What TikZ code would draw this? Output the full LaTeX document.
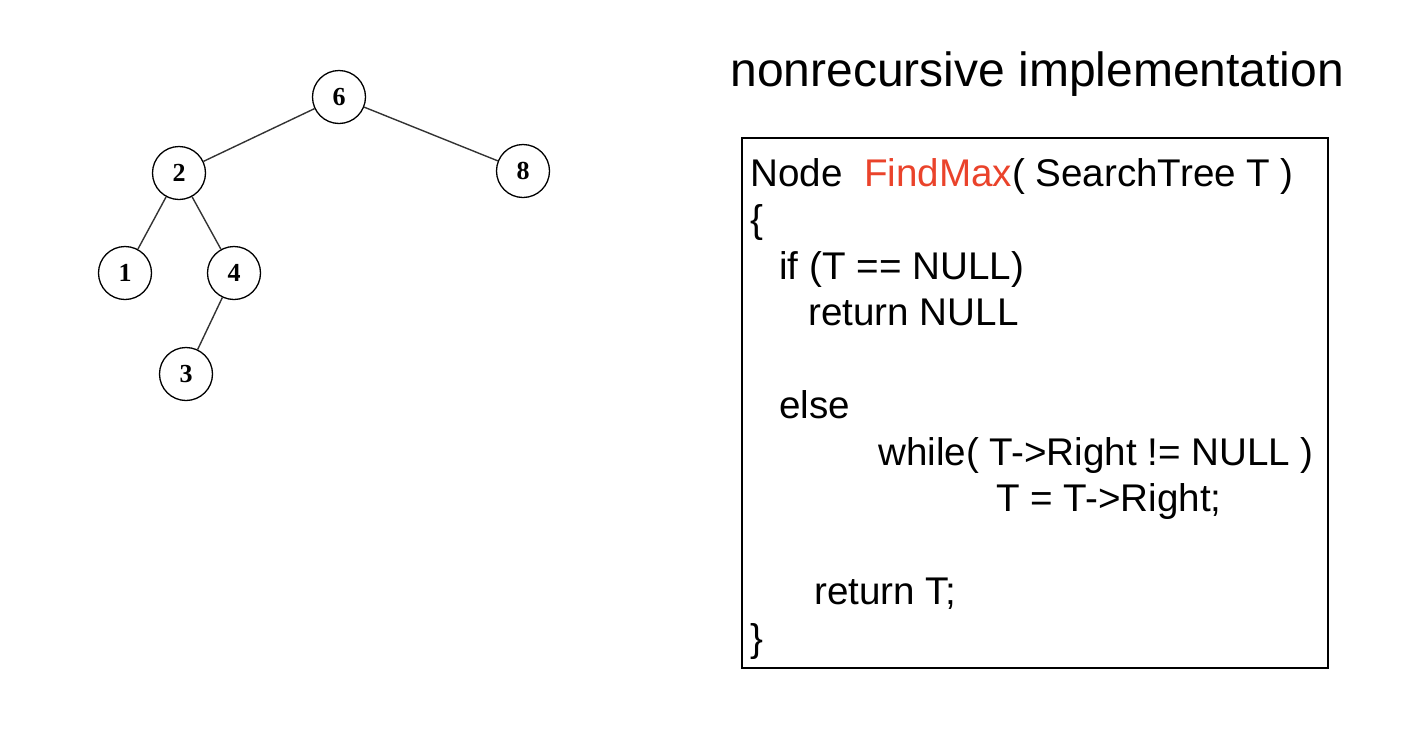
\documentclass[tikz,border=0pt]{standalone}
\usepackage{fontspec}
\setmainfont{Liberation Sans}
\newfontfamily\treefont{Liberation Serif}
\definecolor{fnred}{RGB}{234,67,43}
\begin{document}
\begin{tikzpicture}[x=0.5pt, y=-0.5pt]
		\tikzset{leaf/.style={draw, circle, minimum size=26.5pt, inner sep=0, line width=0.65pt, font=\treefont\bfseries\fontsize{13}{13}\selectfont},
			edge/.style={black!80, line width=0.7pt},
			code/.style={anchor=base west, inner sep=0, font=\fontsize{19.3}{23}\selectfont}}
		\useasboundingbox (0,0) rectangle (1418,750);
		% search tree
		\node [leaf] (n6) at (339,97) {6};
		\node [leaf] (n2) at (179,173) {2};
		\node [leaf] (n8) at (523,171) {8};
		\node [leaf] (n1) at (125,273) {1};
		\node [leaf] (n4) at (234,273) {4};
		\node [leaf] (n3) at (186,374) {3};
		\draw [edge] (n6) -- (n2);
		\draw [edge] (n6) -- (n8);
		\draw [edge] (n2) -- (n1);
		\draw [edge] (n2) -- (n4);
		\draw [edge] (n4) -- (n3);
		% code
		\node [font=\fontsize{24}{28}\selectfont, anchor=base west, inner sep=0] (title) at (730,86) {nonrecursive implementation};
		\node [draw, line width=0.7pt, minimum width=293pt, minimum height=265pt] (codebox) at (1035,403) {};
		\node [code] (l1) at (750,186) {Node\ \ \textcolor{fnred}{FindMax}( SearchTree T )};
		\node [code] (l2) at (750,232.5) {\{};
		\node [code] (l3) at (779,279) {if (T == NULL)};
		\node [code] (l4) at (808,325.5) {return NULL};
		\node [code] (l5) at (779,418.5) {else};
		\node [code] (l6) at (878,465) {while( T->Right != NULL )};
		\node [code] (l7) at (996,511.5) {T = T->Right;};
		\node [code] (l8) at (814,604.5) {return T;};
		\node [code] (l9) at (750,651) {\}};
	\end{tikzpicture}
\end{document}
